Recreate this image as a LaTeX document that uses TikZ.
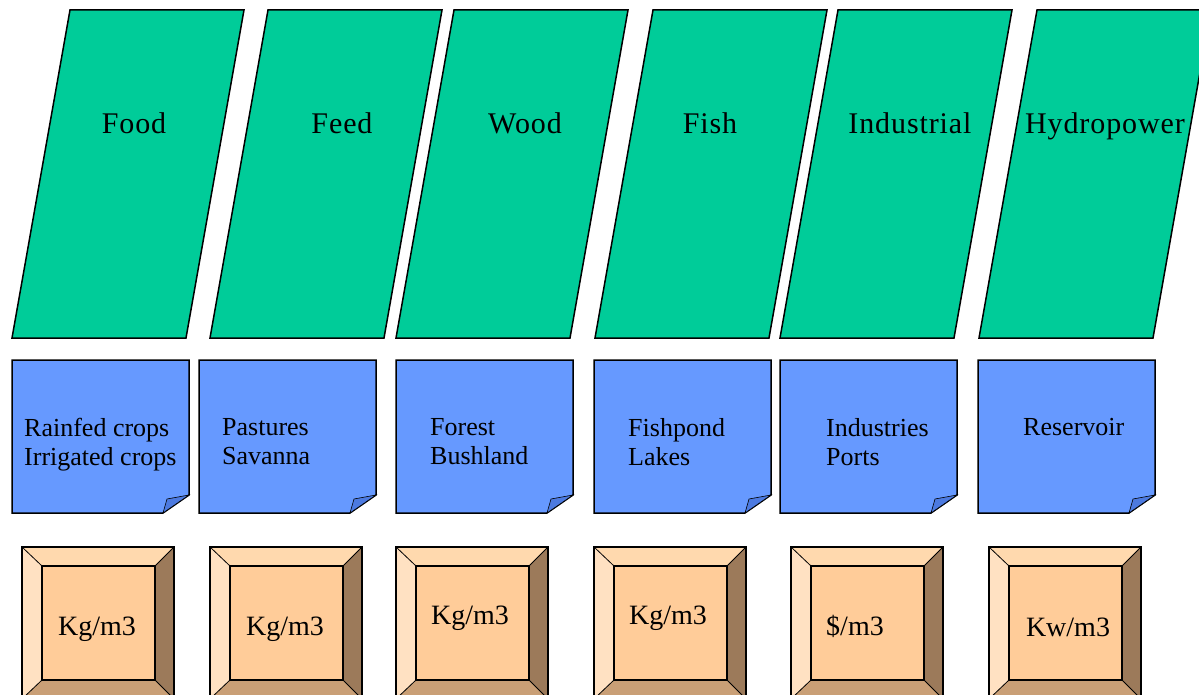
\documentclass[tikz,border=0pt]{standalone}
\usepackage{fontspec}
\setmainfont{Liberation Serif}
\usetikzlibrary{positioning,calc}
\definecolor{usegreen}{HTML}{00CC99}
\definecolor{landblue}{HTML}{6699FF}
\definecolor{foldblue}{HTML}{4C7AE0}
\definecolor{keyface}{HTML}{FFCC99}
\definecolor{keytop}{HTML}{FFD9AE}
\definecolor{keyleft}{HTML}{FFE1C2}
\definecolor{keyright}{HTML}{9C7A5A}
\definecolor{keybottom}{HTML}{C99F76}
\tikzset{
    plate/.style={draw=black,fill=usegreen,line width=1.5pt,line join=miter},
    sheet/.style={draw=black,fill=landblue,line width=1.5pt},
    usename/.style={font=\fontsize{30}{32}\selectfont\addfontfeatures{LetterSpace=3},inner sep=0pt,anchor=base},
    landtext/.style={font=\fontsize{26}{29}\selectfont,align=left,anchor=north west,inner sep=0pt},
    keyline/.style={draw=black,line width=1.5pt},
    unittext/.style={font=\fontsize{28}{30}\selectfont,inner sep=0pt,anchor=base},
}
\begin{document}
\begin{tikzpicture}[x=1pt,y=-1pt]
    \useasboundingbox (0,0) rectangle (1199,695);
    \clip (0,0) rectangle (1199,695);

    % water uses
    \foreach \bx/\lx/\txt [count=\i] in {12/134/Food,210/342/Feed,396/525/Wood,595/710/Fish,780/910/Industrial,979/1105/Hydropower}{
        \draw[plate] (\bx,338) -- ++(58,-328) -- ++(174,0) -- ++(-58,328) -- cycle;
        \node[usename] (use\i) at (\lx,134) {\txt};
    }

    % land units
    \foreach \nx/\tx/\txt [count=\i] in {12/24/{Rainfed crops\\Irrigated crops},199/222/{Pastures\\Savanna},396/430/{Forest\\Bushland},594/628/{Fishpond\\Lakes},780/826/{Industries\\Ports},978/1023/{Reservoir}}{
        \draw[sheet] (\nx,360) -- ++(177,0) -- ++(0,135) -- ++(-26,18) -- (\nx,513) -- cycle;
        \filldraw[fill=foldblue,draw=black,line width=0.6pt] (\nx+177,495) -- (\nx+151,513) -- (\nx+155,499) -- cycle;
        \node[landtext] (land\i) at (\tx,418) {\txt};
    }

    % productivity units
    \foreach \kx/\ux/\uy/\txt [count=\i] in {22/97/635/{Kg/m3},210/285/635/{Kg/m3},396/470/624/{Kg/m3},594/668/624/{Kg/m3},791/855/635/{\$/m3},989/1068/636/{Kw/m3}}{
        \fill[keytop] (\kx,547) -- (\kx+152,547) -- (\kx+133,566) -- (\kx+20,566) -- cycle;
        \fill[keyleft] (\kx,547) -- (\kx+20,566) -- (\kx+20,680) -- (\kx,699) -- cycle;
        \fill[keyright] (\kx+152,547) -- (\kx+152,699) -- (\kx+133,680) -- (\kx+133,566) -- cycle;
        \fill[keybottom] (\kx,699) -- (\kx+152,699) -- (\kx+133,680) -- (\kx+20,680) -- cycle;
        \draw[keyline,fill=keyface] (\kx+20,566) rectangle (\kx+133,680);
        \draw[line width=0.8pt] (\kx,547) -- (\kx+20,566) (\kx+152,547) -- (\kx+133,566)
            (\kx,699) -- (\kx+20,680) (\kx+152,699) -- (\kx+133,680);
        \draw[keyline] (\kx,547) rectangle (\kx+152,699);
        \node[unittext] (unit\i) at (\ux,\uy) {\txt};
    }
\end{tikzpicture}
\end{document}
